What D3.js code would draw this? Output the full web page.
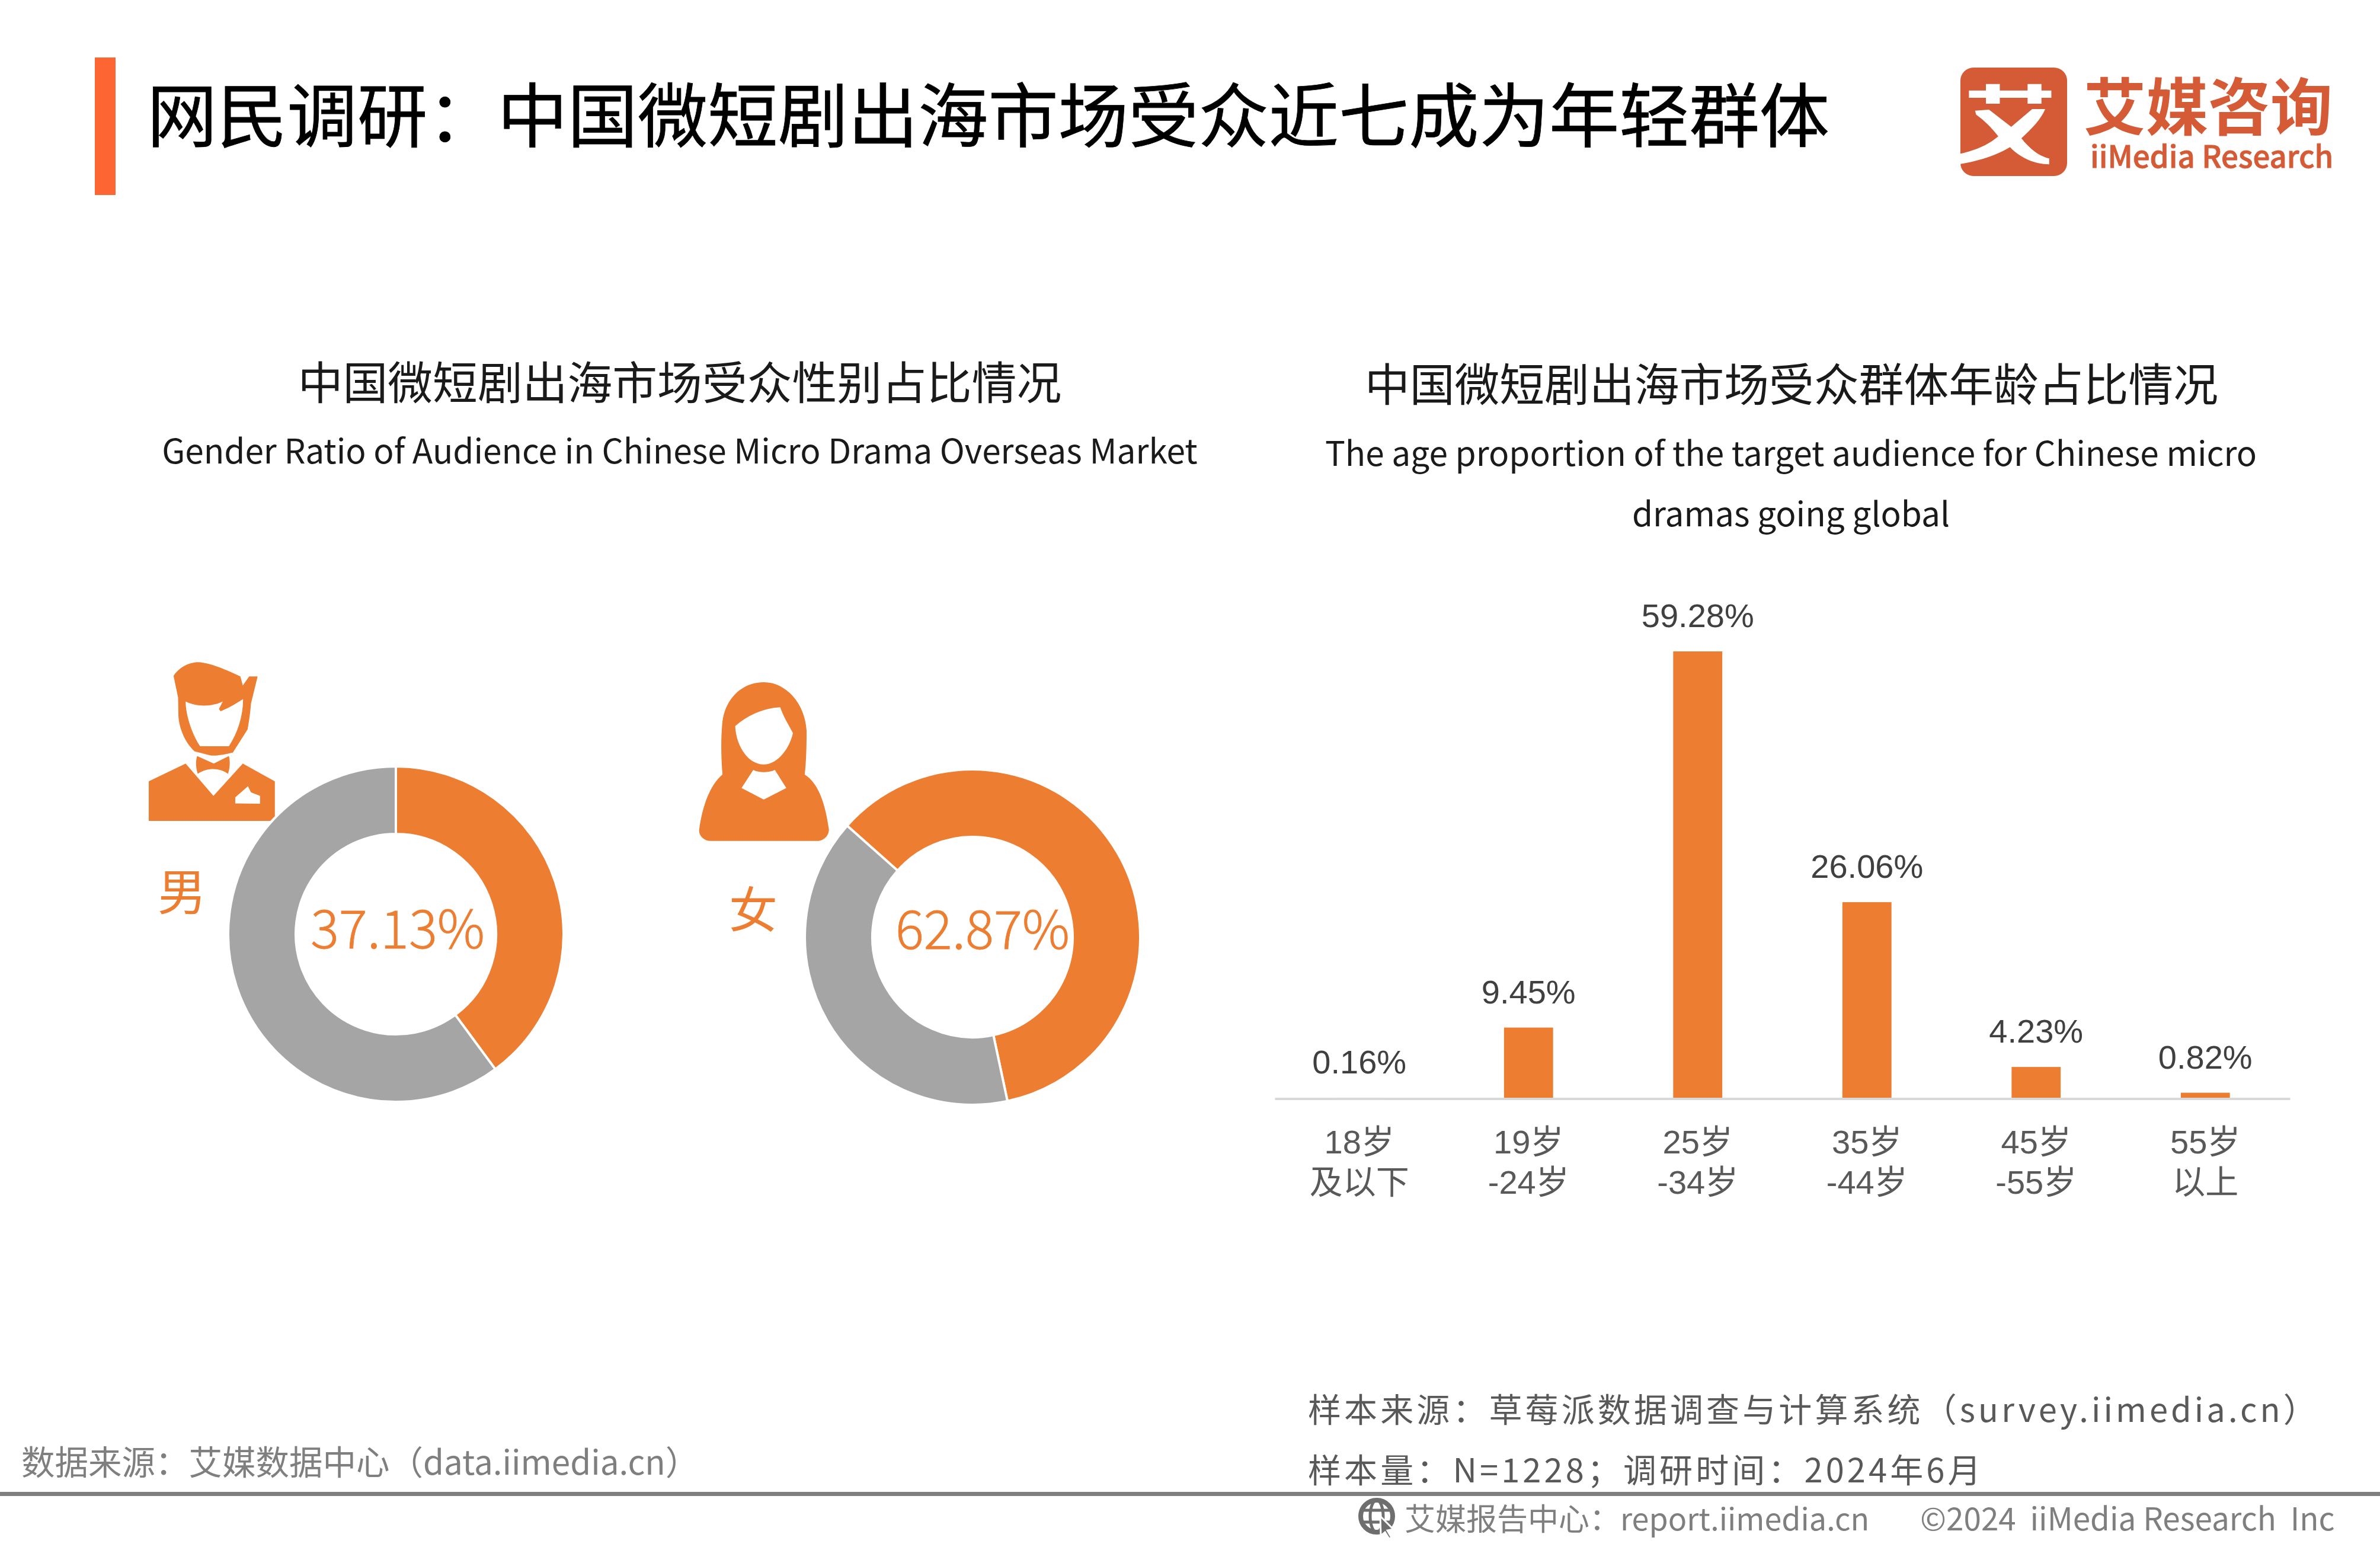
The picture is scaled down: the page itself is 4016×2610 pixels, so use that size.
<!DOCTYPE html>
<html>
<head>
<meta charset="utf-8">
<script src="https://cdn.jsdelivr.net/npm/d3@7"></script>
<style>
  html, body { margin: 0; background: #fff; }
  text { font-family: "Noto Sans CJK SC", "Noto Sans", sans-serif; }
  .arial { font-family: "Liberation Sans", "Noto Sans CJK SC", sans-serif; }
</style>
</head>
<body>
<svg id="chart" width="4016" height="2610"></svg>
<script>
// age chart
var ageLine1 = ['18岁', '19岁', '25岁', '35岁', '45岁', '55岁'];
var ageLine2 = ['及以下', '-24岁', '-34岁', '-44岁', '-55岁', '以上'];
var ageShares = [0.16, 9.45, 59.28, 26.06, 4.23, 0.82];

// the rings are not drawn to their printed numbers, so the slices are read off the picture
var maleLabel = '37.13%';
var femaleLabel = '62.87%';
var maleSlices = [39.9, 60.1];
var femaleSlices = [60.1, 39.9];

var orange = '#ed7d31';
var grey = '#a5a5a5';

var svg = d3.select('#chart');

svg.append('rect')
  .attr('width', 4016)
  .attr('height', 2610)
  .attr('fill', '#fff');

// header
svg.append('rect')
  .attr('x', 160)
  .attr('y', 97)
  .attr('width', 35)
  .attr('height', 232)
  .attr('fill', '#fd6633');

svg.append('text')
  .attr('x', 248)
  .attr('y', 239)
  .attr('font-size', 118.3)
  .attr('fill', '#000')
  .attr('stroke', '#000')
  .attr('stroke-width', 0.8)
  .text('网民调研：中国微短剧出海市场受众近七成为年轻群体');

// logo
var logo = svg.append('g');
var logoColor = '#d45b35';

logo.append('rect')
  .attr('x', 3308)
  .attr('y', 114)
  .attr('width', 180)
  .attr('height', 183)
  .attr('rx', 22)
  .attr('fill', logoColor);

logo.append('path')
  .attr('transform', 'translate(3200,60) scale(0.5208,0.3333)')
  .attr('fill', '#fff')
  .attr('d', 'M235,278 L290,278 L290,245 L335,245 L335,278 L425,278 L425,245 L470,245 L470,278 L502,278 L502,315 L470,315 L470,345 L425,345 L425,315 L335,315 L335,345 L290,345 L290,315 L235,315 Z' +
    'M255,380 L300,375 L372,462 L440,372 L482,372 C470,420 440,470 405,520 C430,570 460,610 495,622 L495,652 C440,650 395,610 368,565 C320,610 265,635 207,650 L207,598 C260,580 300,550 330,510 C310,470 285,430 258,400 Z');

logo.append('text')
  .attr('x', 3516)
  .attr('y', 219)
  .attr('font-size', 105)
  .attr('font-weight', 700)
  .attr('fill', logoColor)
  .text('艾媒咨询');

logo.append('text')
  .attr('x', 3527)
  .attr('y', 283)
  .attr('font-size', 51)
  .attr('font-weight', 500)
  .attr('fill', logoColor)
  .attr('stroke', logoColor)
  .attr('stroke-width', 0.8)
  .text('iiMedia Research');

// panel titles
function centered(x, y, size, color, str) {
  return svg.append('text')
    .attr('x', x)
    .attr('y', y)
    .attr('text-anchor', 'middle')
    .attr('font-size', size)
    .attr('fill', color)
    .text(str);
}

centered(1147, 674, 75.8, '#1a1a1a', '中国微短剧出海市场受众性别占比情况');
centered(1147, 782, 56.7, '#1a1a1a', 'Gender Ratio of Audience in Chinese Micro Drama Overseas Market');
centered(3023, 677, 75.8, '#1a1a1a', '中国微短剧出海市场受众群体年龄占比情况');
centered(3022, 786, 56.7, '#1a1a1a', 'The age proportion of the target audience for Chinese micro');
centered(3022, 888, 56.7, '#1a1a1a', 'dramas going global');

// donuts
var arc = d3.arc().innerRadius(169).outerRadius(283);

function donut(cx, cy, slices, startDeg) {
  var start = startDeg * Math.PI / 180;
  var pie = d3.pie().sort(null).startAngle(start).endAngle(start + 2 * Math.PI);
  svg.append('g')
    .attr('transform', 'translate(' + cx + ',' + cy + ')')
    .selectAll('path')
    .data(pie(slices))
    .enter().append('path')
    .attr('d', arc)
    .attr('fill', function(d, i) { return i === 0 ? orange : grey; })
    .attr('stroke', '#fff')
    .attr('stroke-width', 4);
}

donut(668, 1576, maleSlices, 0);
donut(1641, 1581, femaleSlices, -48.4);

centered(671, 1600, 89.5, orange, maleLabel)
  .attr('font-weight', 300)
  .attr('stroke', orange)
  .attr('stroke-width', 0.8);
centered(1658, 1601, 89.5, orange, femaleLabel)
  .attr('font-weight', 300)
  .attr('stroke', orange)
  .attr('stroke-width', 0.8);
centered(307, 1535, 82, orange, '男');
centered(1271, 1565, 82, orange, '女');

// person icons
svg.append('path')
  .attr('transform', 'translate(200,1080) scale(0.5102)')
  .attr('fill', orange)
  .attr('fill-rule', 'evenodd')
  .attr('d', 'M182,118 C200,90 235,72 265,73 C305,75 360,100 403,120 L411,150 L432,120 L460,120 L438,210 C435,250 430,275 427,295 L378,372 C350,378 320,385 300,380 L252,368 C220,340 200,290 198,250 L197,190 Z' +
    'M222,203 C260,222 310,220 345,203 L332,228 L338,235 C370,222 395,205 412,195 C412,250 395,305 365,351 L270,351 C245,315 222,250 222,203 Z' +
    'M260,383 L315,408 L365,383 C370,400 368,425 362,442 C335,422 295,420 262,442 C255,420 255,400 260,383 Z' +
    'M100,467 L222,408 L314,515 L411,408 L517,467 L517,582 L502,598 L100,598 Z' +
    'M386,540 L386,520 L428,483 L438,503 L468,515 L468,541 Z');

svg.append('path')
  .attr('transform', 'translate(1120,1100) scale(0.5357,0.5102)')
  .attr('fill', orange)
  .attr('fill-rule', 'evenodd')
  .attr('d', 'M185,405 C180,340 180,280 185,230 C195,150 250,100 315,100 C385,100 445,170 450,260 C450,320 448,370 444,405 C490,435 510,510 520,585 C522,605 505,625 485,625 L148,625 C125,625 108,605 112,585 C122,510 145,440 185,405 Z' +
    'M225,245 C270,205 320,185 367,183 C375,210 395,245 407,268 C395,325 355,372 315,372 C265,372 228,310 225,245 Z' +
    'M282,390 C300,400 330,400 350,390 L386,450 L315,488 L245,450 Z');

// bars
var x = d3.scaleBand()
  .domain(ageLine1)
  .range([2151, 3864])
  .paddingInner(0.71)
  .paddingOuter(0.355);

var y = d3.scaleLinear()
  .domain([0, 59.28])
  .range([1854, 1099]);

svg.append('g')
  .selectAll('rect')
  .data(ageShares)
  .enter().append('rect')
  .attr('x', function(d, i) { return x(ageLine1[i]); })
  .attr('y', function(d) { return y(d); })
  .attr('width', x.bandwidth())
  .attr('height', function(d) { return y(0) - y(d); })
  .attr('fill', orange);

svg.append('g')
  .selectAll('text')
  .data(ageShares)
  .enter().append('text')
  .attr('class', 'arial')
  .attr('x', function(d, i) { return x(ageLine1[i]) + x.bandwidth() / 2; })
  .attr('y', function(d) { return y(d) - 41; })
  .attr('text-anchor', 'middle')
  .attr('font-size', 56)
  .attr('fill', '#404040')
  .text(function(d) { return d3.format('.2f')(d) + '%'; });

var axis = svg.append('g')
  .attr('transform', 'translate(0,1853.5)')
  .call(d3.axisBottom(x).tickSize(0).tickPadding(0));

axis.select('.domain')
  .attr('stroke', '#d9d9d9')
  .attr('stroke-width', 4);

axis.selectAll('.tick text')
  .attr('class', 'arial')
  .attr('font-size', 56)
  .attr('fill', '#595959')
  .attr('y', 0)
  .attr('dy', 0)
  .text(null)
  .each(function(d, i) {
    var t = d3.select(this);
    t.append('tspan').attr('x', 0).attr('y', 92.5).text(ageLine1[i]);
    t.append('tspan').attr('x', 0).attr('y', 160.5).text(ageLine2[i]);
  });

// footer
svg.append('rect')
  .attr('x', 0)
  .attr('y', 2517)
  .attr('width', 4016)
  .attr('height', 7)
  .attr('fill', '#7f7f7f');

svg.append('text')
  .attr('x', 36)
  .attr('y', 2488)
  .attr('font-size', 56.5)
  .attr('fill', '#7f7f7f')
  .text('数据来源：艾媒数据中心（data.iimedia.cn）');

svg.append('text')
  .attr('x', 2207)
  .attr('y', 2399)
  .attr('font-size', 56)
  .attr('letter-spacing', 5.1)
  .attr('fill', '#595959')
  .text('样本来源：草莓派数据调查与计算系统（survey.iimedia.cn）');

svg.append('text')
  .attr('x', 2207)
  .attr('y', 2501)
  .attr('font-size', 56)
  .attr('letter-spacing', 5.1)
  .attr('fill', '#595959')
  .text('样本量：N=1228；调研时间：2024年6月');

svg.append('text')
  .attr('x', 2370)
  .attr('y', 2582)
  .attr('font-size', 52)
  .attr('fill', '#7f7f7f')
  .text('艾媒报告中心：report.iimedia.cn');

svg.append('text')
  .attr('x', 3240)
  .attr('y', 2582)
  .attr('font-size', 53)
  .attr('fill', '#7f7f7f')
  .style('white-space', 'pre')
  .text('©2024  iiMedia Research  Inc');

// footer globe
var globe = svg.append('g')
  .attr('transform', 'translate(2323,2558)')
  .attr('fill', 'none')
  .attr('stroke', '#6e6e6e')
  .attr('stroke-width', 8);

globe.append('circle').attr('r', 27);
globe.append('ellipse').attr('rx', 11).attr('ry', 27).attr('stroke-width', 5);
globe.append('path').attr('stroke-width', 5).attr('d', 'M-27,-10 L27,-10 M-27,10 L27,10');
globe.append('path')
  .attr('d', 'M6,0 L28,22 L18,24 L25,36 L21,38 L14,27 L7,33 Z')
  .attr('fill', '#6e6e6e')
  .attr('stroke', '#fff')
  .attr('stroke-width', 3);
</script>
</body>
</html>
